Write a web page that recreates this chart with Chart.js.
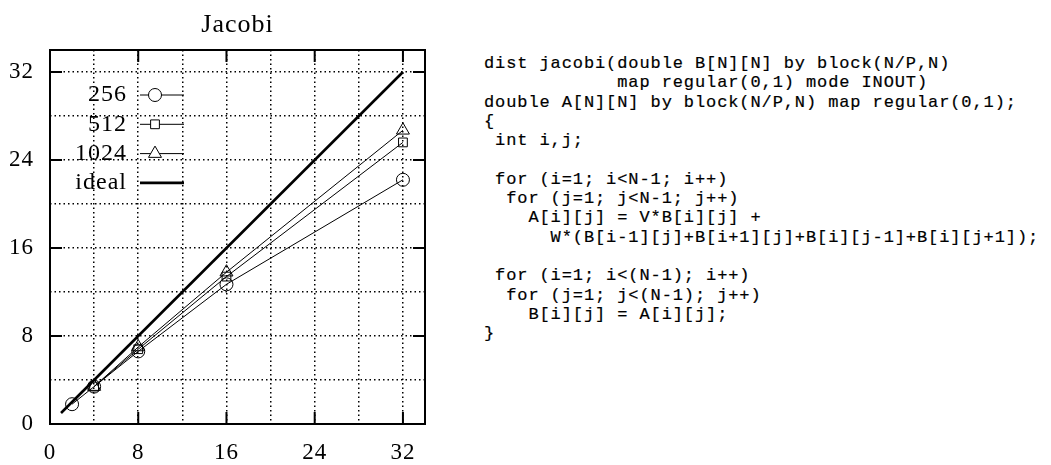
<!DOCTYPE html>
<html>
<head>
<meta charset="utf-8">
<script src="https://cdn.jsdelivr.net/npm/chart.js@4.4.1/dist/chart.umd.min.js"></script>
<style>
  html, body { margin: 0; padding: 0; background: #fff; }
  #wrap { position: relative; width: 1051px; height: 465px; overflow: hidden; }
  #plot { position: absolute; left: 0; top: 0; }
  #code {
    position: absolute; left: 484px; top: 54px; margin: 0;
    font-family: "Liberation Mono", monospace; font-size: 17px;
    letter-spacing: 0.9px; line-height: 19.3px; color: #000;
    -webkit-text-stroke: 0.2px #000;
  }
</style>
</head>
<body>
<div id="wrap">
  <canvas id="plot" width="450" height="465"></canvas>
  <pre id="code"></pre>
</div>
<script>
// Speedup of the distributed Jacobi kernel for three problem sizes
const procs256 = [2, 4, 8, 16, 32];
const speedup256 = [1.8, 3.4, 6.6, 12.7, 22.2];
const procs512 = [4, 8, 16, 32];
const speedup512 = [3.4, 6.8, 13.4, 25.6];
const procs1024 = [4, 8, 16, 32];
const speedup1024 = [3.4, 7.0, 13.8, 26.7];
const idealProcs = [1, 32];
const idealSpeedup = [1, 32];

const seriesLabels = ['256', '512', '1024', 'ideal'];
const gridValues = [0, 4, 8, 12, 16, 20, 24, 28, 32];
const labelValues = [0, 8, 16, 24, 32];
const axisMax = 34;

const codeLines = [
  'dist jacobi(double B[N][N] by block(N/P,N)',
  '            map regular(0,1) mode INOUT)',
  'double A[N][N] by block(N/P,N) map regular(0,1);',
  '{',
  ' int i,j;',
  '',
  ' for (i=1; i<N-1; i++)',
  '  for (j=1; j<N-1; j++)',
  '    A[i][j] = V*B[i][j] +',
  '      W*(B[i-1][j]+B[i+1][j]+B[i][j-1]+B[i][j+1]);',
  '',
  ' for (i=1; i<(N-1); i++)',
  '  for (j=1; j<(N-1); j++)',
  '    B[i][j] = A[i][j];',
  '}'
];
document.getElementById('code').textContent = codeLines.join('\n');

const pts = (xs, ys) => xs.map((x, i) => ({ x: x, y: ys[i] }));
const serif = 'Liberation Serif, Times New Roman, serif';

function markerPath(ctx, style, r, x, y) {
  ctx.beginPath();
  if (style === 'circle') {
    ctx.arc(x, y, r, 0, Math.PI * 2);
  } else if (style === 'rect') {
    const s = Math.SQRT1_2 * r;
    ctx.rect(x - s, y - s, 2 * s, 2 * s);
  } else if (style === 'triangle') {
    let a = 0;
    ctx.moveTo(x + Math.sin(a) * r, y - Math.cos(a) * r);
    a += 2 * Math.PI / 3;
    ctx.lineTo(x + Math.sin(a) * r, y - Math.cos(a) * r);
    a += 2 * Math.PI / 3;
    ctx.lineTo(x + Math.sin(a) * r, y - Math.cos(a) * r);
    ctx.closePath();
  }
}

// Slightly looser text spacing for all canvas labels
const spacingPlugin = {
  id: 'spacing',
  beforeDraw(chart) {
    if ('letterSpacing' in chart.ctx) chart.ctx.letterSpacing = '1px';
  }
};

// Solid frame, inward tick marks and the key in the upper left corner
const framePlugin = {
  id: 'frame',
  afterDraw(chart) {
    const { ctx, chartArea: a, scales } = chart;
    ctx.save();
    ctx.strokeStyle = '#000';
    ctx.lineWidth = 2;
    ctx.strokeRect(a.left, a.top, a.right - a.left, a.bottom - a.top);
    const len = 12;
    ctx.beginPath();
    labelValues.forEach(v => {
      if (v > 0) {
        const px = scales.x.getPixelForValue(v);
        ctx.moveTo(px, a.bottom); ctx.lineTo(px, a.bottom - len);
        ctx.moveTo(px, a.top); ctx.lineTo(px, a.top + len);
        const py = scales.y.getPixelForValue(v);
        ctx.moveTo(a.left, py); ctx.lineTo(a.left + len, py);
        ctx.moveTo(a.right, py); ctx.lineTo(a.right - len, py);
      }
    });
    ctx.stroke();

    // key
    ctx.font = '24px ' + serif;
    ctx.fillStyle = '#000';
    ctx.textAlign = 'right';
    ctx.textBaseline = 'middle';
    chart.data.datasets.forEach((ds, i) => {
      const y = a.top + 45 + i * 29.3;
      ctx.fillText(ds.label, a.left + 77, y);
      ctx.lineWidth = ds.borderWidth;
      ctx.beginPath();
      ctx.moveTo(a.left + 90, y);
      ctx.lineTo(a.left + 134, y);
      ctx.stroke();
      if (ds.pointRadius > 0) {
        ctx.lineWidth = 1;
        markerPath(ctx, ds.pointStyle, ds.pointRadius, a.left + 105, y);
        ctx.fillStyle = '#fff';
        ctx.fill();
        ctx.stroke();
        ctx.fillStyle = '#000';
      }
    });
    ctx.restore();
  }
};

const thin = { borderColor: '#000', borderWidth: 1, pointBorderColor: '#000',
  pointBackgroundColor: 'rgba(0,0,0,0)', pointBorderWidth: 1, showLine: true, tension: 0 };

const tickFont = { family: serif, size: 23 };
const tickLabel = v => (labelValues.includes(v) ? String(v) : '');

const axis = (extra) => Object.assign({
  type: 'linear', min: 0, max: axisMax,
  afterBuildTicks: s => { s.ticks = gridValues.map(v => ({ value: v })); },
  grid: { color: '#000', lineWidth: 1.5, drawTicks: false },
  border: { display: false, dash: [1.5, 3] }
}, extra);

new Chart(document.getElementById('plot'), {
  type: 'scatter',
  data: {
    datasets: [
      Object.assign({ label: seriesLabels[0], data: pts(procs256, speedup256), pointStyle: 'circle', pointRadius: 6.5 }, thin),
      Object.assign({ label: seriesLabels[1], data: pts(procs512, speedup512), pointStyle: 'rect', pointRadius: 6.2 }, thin),
      Object.assign({ label: seriesLabels[2], data: pts(procs1024, speedup1024), pointStyle: 'triangle', pointRadius: 7.5 }, thin),
      { label: seriesLabels[3], data: pts(idealProcs, idealSpeedup), borderColor: '#000', borderWidth: 2.6,
        pointRadius: 0, showLine: true, tension: 0 }
    ]
  },
  options: {
    responsive: false,
    animation: false,
    layout: { padding: { left: 0, right: 25, top: 0, bottom: 0 } },
    plugins: {
      legend: { display: false },
      tooltip: { enabled: false },
      title: {
        display: true, text: 'Jacobi', color: '#000', fullSize: false,
        font: { family: serif, size: 26, weight: 'normal', lineHeight: 1.2 },
        padding: { top: 9.4, bottom: 9.4 }
      }
    },
    scales: {
      x: axis({ position: 'bottom', afterFit: s => { s.height = 41; },
        ticks: { color: '#000', font: tickFont, padding: 15, maxRotation: 0, callback: tickLabel } }),
      y: axis({ position: 'left', afterFit: s => { s.width = 50; },
        ticks: { color: '#000', font: tickFont, padding: 16, callback: tickLabel } })
    }
  },
  plugins: [spacingPlugin, framePlugin]
});
</script>
</body>
</html>
